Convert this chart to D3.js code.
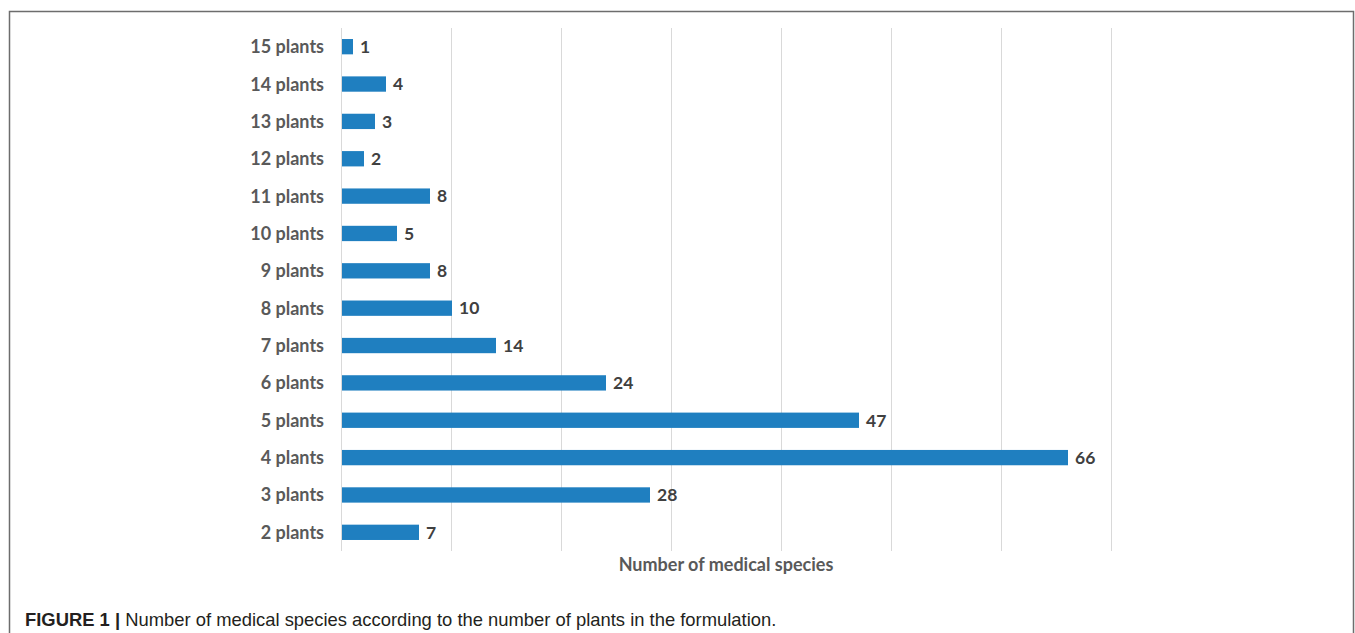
<!DOCTYPE html>
<html><head><meta charset="utf-8">
<script src="https://cdn.jsdelivr.net/npm/d3@7"></script>
<style>
html,body{margin:0;padding:0;background:#fff;}
svg{display:block;}
</style></head>
<body>
<svg id="chart" width="1355" height="633"></svg>
<script>
const categories = ["15 plants","14 plants","13 plants","12 plants","11 plants","10 plants","9 plants","8 plants","7 plants","6 plants","5 plants","4 plants","3 plants","2 plants"];
const values = [1,4,3,2,8,5,8,10,14,24,47,66,28,7];
const xTicks = [0,10,20,30,40,50,60,70];
const axisTitle = "Number of medical species";
const captionBold = "FIGURE 1 | ";
const captionText = "Number of medical species according to the number of plants in the formulation.";

const svg = d3.select("#chart");
const W = 1355, H = 633;
const plot = {left: 341, right: 1111, top: 28, bottom: 551};

// figure border (open at bottom)
svg.append("path")
  .attr("d", `M9.5,${H} V11.5 H1353.5 V${H}`)
  .attr("fill","none").attr("stroke","#6d6d6d").attr("stroke-width",1.5);

const x = d3.scaleLinear().domain([0,70]).range([plot.left, plot.right]);
const y = d3.scaleBand().domain(categories).range([plot.top, plot.bottom]).paddingInner(0.59).paddingOuter(0.295);

// gridlines
svg.append("g").selectAll("line").data(xTicks).join("line")
  .attr("x1", d=>x(d)+0.5).attr("x2", d=>x(d)+0.5)
  .attr("y1", plot.top).attr("y2", plot.bottom)
  .attr("stroke","#d9d9d9").attr("stroke-width",1);

const font = "Lato, 'Open Sans', sans-serif";
const txtColor = "#595959";

// bars
svg.append("g").selectAll("rect").data(values).join("rect")
  .attr("x", x(0)+1)
  .attr("y", (d,i)=>y(categories[i]))
  .attr("width", d=>x(d)-x(0))
  .attr("height", y.bandwidth())
  .attr("fill","#1f7fc0");

// value labels
svg.append("g").selectAll("text").data(values).join("text")
  .attr("x", d=>x(d)+8)
  .attr("y", (d,i)=>y(categories[i])+y.bandwidth()/2)
  .attr("dy","0.36em")
  .attr("font-family", font).attr("font-weight","bold").attr("font-size",17.5)
  .attr("fill", "#404040")
  .text(d=>d);

// y axis labels
const yAxis = d3.axisLeft(y).tickSize(0).tickPadding(17);
const gy = svg.append("g").attr("transform",`translate(${plot.left},0)`).call(yAxis);
gy.select(".domain").remove();
gy.selectAll("text").attr("font-family", font).attr("font-weight","bold").attr("font-size",18).attr("fill",txtColor).attr("dy","0.36em");

// axis title
svg.append("text")
  .attr("x", (plot.left+plot.right)/2).attr("y", 571)
  .attr("text-anchor","middle")
  .attr("font-family", font).attr("font-weight","bold").attr("font-size",18)
  .attr("fill",txtColor)
  .text(axisTitle);

// caption
const cap = svg.append("text").attr("x",25).attr("y",626)
  .attr("font-family","'Liberation Sans', Arial, sans-serif").attr("font-size",18.4).attr("fill","#231f20");
cap.append("tspan").attr("font-weight","bold").text(captionBold);
cap.append("tspan").text(captionText);
</script>
</body></html>
